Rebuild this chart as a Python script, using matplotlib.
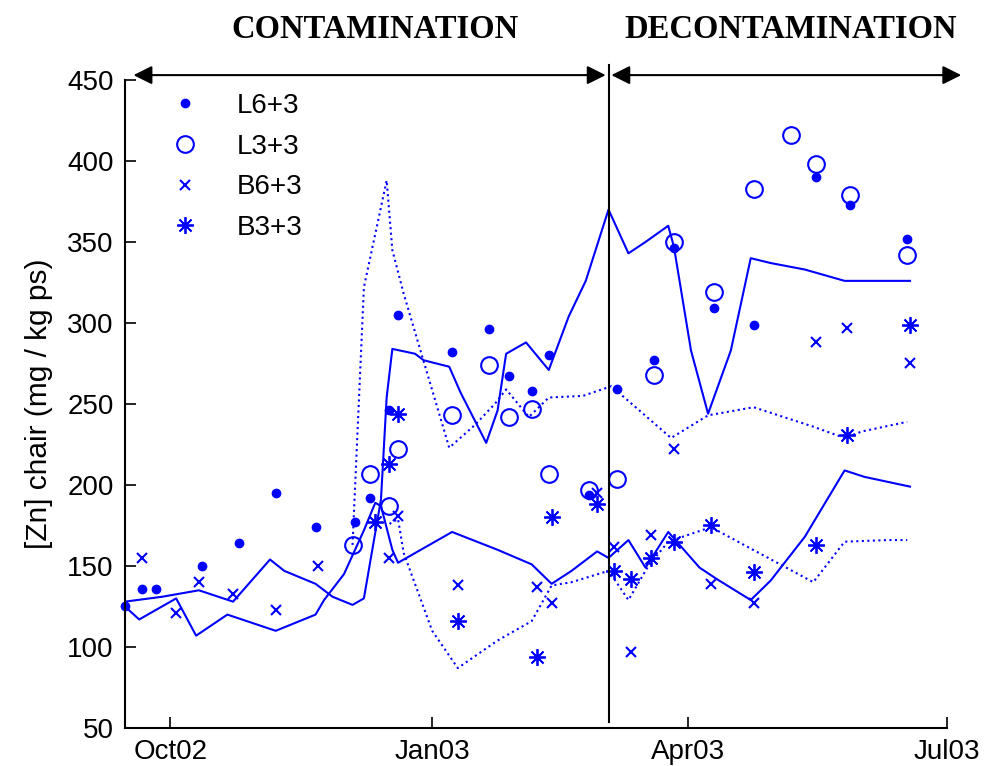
import matplotlib
matplotlib.use("Agg")
import matplotlib.pyplot as plt
import pandas as pd

l6_dates = ['2002-09-15', '2002-09-21', '2002-09-26', '2002-10-12', '2002-10-25', '2002-11-07',
            '2002-11-21', '2002-12-05', '2002-12-10', '2002-12-17', '2002-12-20', '2003-01-08',
            '2003-01-21', '2003-01-28', '2003-02-05', '2003-02-11', '2003-02-25', '2003-03-07',
            '2003-03-20', '2003-03-27', '2003-04-10', '2003-04-24', '2003-05-16', '2003-05-28',
            '2003-06-17']
l6_vals = [125, 136, 136, 150, 164, 195, 174, 177, 192, 246, 305, 282, 296, 267, 258, 280,
           194, 259, 277, 346, 309, 299, 390, 373, 352]

l3_dates = ['2002-12-04', '2002-12-10', '2002-12-17', '2002-12-20', '2003-01-08', '2003-01-21',
            '2003-01-28', '2003-02-05', '2003-02-11', '2003-02-25', '2003-03-07', '2003-03-20',
            '2003-03-27', '2003-04-10', '2003-04-24', '2003-05-07', '2003-05-16', '2003-05-28',
            '2003-06-17']
l3_vals = [163, 207, 187, 222, 243, 274, 242, 247, 207, 197, 204, 268, 350, 319, 383, 416,
           398, 379, 342]

b6_dates = ['2002-09-21', '2002-10-03', '2002-10-11', '2002-10-23', '2002-11-07', '2002-11-22',
            '2002-12-17', '2002-12-20', '2003-01-10', '2003-02-07', '2003-02-12', '2003-02-28',
            '2003-03-06', '2003-03-12', '2003-03-19', '2003-03-27', '2003-04-09', '2003-04-24',
            '2003-05-16', '2003-05-27', '2003-06-18']
b6_vals = [155, 121, 140, 133, 123, 150, 155, 181, 138, 137, 127, 195, 162, 97, 169, 222,
           139, 127, 288, 297, 275]

b3_dates = ['2002-12-12', '2002-12-17', '2002-12-20', '2003-01-10', '2003-02-07', '2003-02-12',
            '2003-02-28', '2003-03-06', '2003-03-12', '2003-03-19', '2003-03-27', '2003-04-09',
            '2003-04-24', '2003-05-16', '2003-05-27', '2003-06-18']
b3_vals = [177, 213, 244, 116, 94, 180, 188, 147, 142, 155, 165, 175, 146, 163, 231, 299]

# model curves
sh_dates = ['2002-09-15', '2002-09-28', '2002-10-11', '2002-10-23', '2002-11-05', '2002-11-10',
            '2002-11-21', '2002-11-27', '2002-12-04', '2002-12-08', '2002-12-14', '2002-12-16',
            '2002-12-18', '2002-12-26', '2002-12-29', '2003-01-07', '2003-01-11', '2003-01-20',
            '2003-01-24', '2003-01-27', '2003-02-03', '2003-02-11', '2003-02-18', '2003-02-24',
            '2003-03-04', '2003-03-11', '2003-03-17', '2003-03-25', '2003-03-27', '2003-04-02',
            '2003-04-08', '2003-04-16', '2003-04-23', '2003-04-30', '2003-05-12', '2003-05-26',
            '2003-06-18']
sh_vals = [128, 131, 135, 128, 154, 147, 139, 131, 126, 130, 191, 254, 284, 281, 277, 273,
           257, 226, 246, 281, 288, 271, 304, 326, 370, 343, 350, 360, 347, 283, 244, 283,
           340, 337, 333, 326, 326]

sl_dates = ['2002-09-15', '2002-09-20', '2002-10-03', '2002-10-10', '2002-10-21', '2002-11-07',
            '2002-11-21', '2002-11-24', '2002-12-01', '2002-12-08', '2002-12-12', '2002-12-14',
            '2002-12-18', '2002-12-20', '2002-12-27', '2003-01-08', '2003-01-24', '2003-02-05',
            '2003-02-12', '2003-02-19', '2003-02-28', '2003-03-04', '2003-03-11', '2003-03-17',
            '2003-03-25', '2003-04-05', '2003-04-11', '2003-04-23', '2003-04-30', '2003-05-12',
            '2003-05-26', '2003-06-02', '2003-06-18']
sl_vals = [125, 117, 130, 107, 120, 110, 120, 129, 145, 172, 189, 187, 160, 152, 159, 171,
           160, 151, 139, 147, 159, 155, 166, 149, 171, 149, 142, 129, 141, 168, 209, 205, 199]

dh_dates = ['2002-12-04', '2002-12-08', '2002-12-16', '2002-12-18', '2002-12-22', '2003-01-07',
            '2003-01-16', '2003-01-23', '2003-01-27', '2003-02-04', '2003-02-11', '2003-02-23',
            '2003-03-05', '2003-03-26', '2003-04-08', '2003-04-24', '2003-05-15', '2003-05-26',
            '2003-06-01', '2003-06-17']
dh_vals = [163, 322, 388, 345, 318, 223, 237, 250, 259, 242, 254, 255, 261, 229, 243, 248,
           236, 229, 233, 239]

dl_dates = ['2002-12-17', '2002-12-20', '2002-12-22', '2003-01-01', '2003-01-10', '2003-01-24',
            '2003-02-05', '2003-02-12', '2003-02-19', '2003-03-04', '2003-03-06', '2003-03-11',
            '2003-03-18', '2003-03-25', '2003-04-09', '2003-05-15', '2003-05-26', '2003-06-10',
            '2003-06-17']
dl_vals = [176, 179, 158, 110, 87, 104, 116, 138, 140, 147, 142, 129, 150, 165, 174, 140,
           165, 166, 166]

tick_dates = ['2002-10-01', '2003-01-01', '2003-04-01', '2003-07-01']
tick_labels = ['Oct02', 'Jan03', 'Apr03', 'Jul03']

d = pd.to_datetime

plt.rcParams['font.family'] = ['Liberation Sans', 'DejaVu Sans']

fig = plt.figure(figsize=(9.84, 7.66), dpi=100)
ax = fig.add_axes([0.127, 0.0496, 0.8354, 0.846])

# curves
ax.plot(d(sh_dates), sh_vals, color='b', lw=1.5)
ax.plot(d(sl_dates), sl_vals, color='b', lw=1.5)
ax.plot(d(dh_dates), dh_vals, color='b', lw=1.5, ls=':')
ax.plot(d(dl_dates), dl_vals, color='b', lw=1.5, ls=':')

# measurements
ax.plot(d(l6_dates), l6_vals, 'bo', ms=6, label='L6+3', clip_on=False)
ax.plot(d(l3_dates), l3_vals, 'o', color='b', mfc='none', ms=12, mew=1.5, label='L3+3')
ax.plot(d(b6_dates), b6_vals, 'x', color='b', ms=7, mew=1.5, label='B6+3')
ax.plot(d(b3_dates), b3_vals, marker=(8, 2, 0), color='b', ls='none', ms=12, mew=1.3,
        label='B3+3')

ax.set_xlim(d('2002-09-15'), d('2003-07-01'))
ax.set_ylim(50, 450)
ax.set_yticks(range(50, 451, 50))
ax.set_xticks(d(tick_dates))
ax.set_xticklabels(tick_labels)
ax.tick_params(direction='in', length=8, width=1.2, labelsize=20, pad=8)
for s in ['top', 'right']:
    ax.spines[s].set_visible(False)
for s in ['left', 'bottom']:
    ax.spines[s].set_linewidth(1.5)
ax.set_ylabel('[Zn] chair (mg / kg ps)', fontsize=21.5, labelpad=10)

leg = ax.legend(loc='upper left', bbox_to_anchor=(0.0426, 0.997), borderaxespad=0,
                frameon=False, fontsize=20, numpoints=1, handlelength=1.0,
                handletextpad=1.37, labelspacing=0.53)

# phase separator and arrows
split = d('2003-03-04')
ax.plot([split, split], [53.5, 459], color='k', lw=1.5, clip_on=False)
arrow = dict(arrowstyle='<|-|>', color='k', lw=1.5, mutation_scale=28, shrinkA=0, shrinkB=0)
ax.annotate('', xy=(d('2002-09-18'), 453), xytext=(d('2003-03-03'), 453),
            arrowprops=arrow, annotation_clip=False)
ax.annotate('', xy=(d('2003-03-05'), 453), xytext=(d('2003-07-06'), 453),
            arrowprops=arrow, annotation_clip=False)
ax.text(d('2002-12-12'), 481, 'CONTAMINATION', ha='center', va='center', fontsize=23.5,
        fontweight='bold', family='Liberation Serif')
ax.text(d('2003-05-07'), 481, 'DECONTAMINATION', ha='center', va='center', fontsize=23.5,
        fontweight='bold', family='Liberation Serif')

fig.savefig('out.png', dpi=100)
